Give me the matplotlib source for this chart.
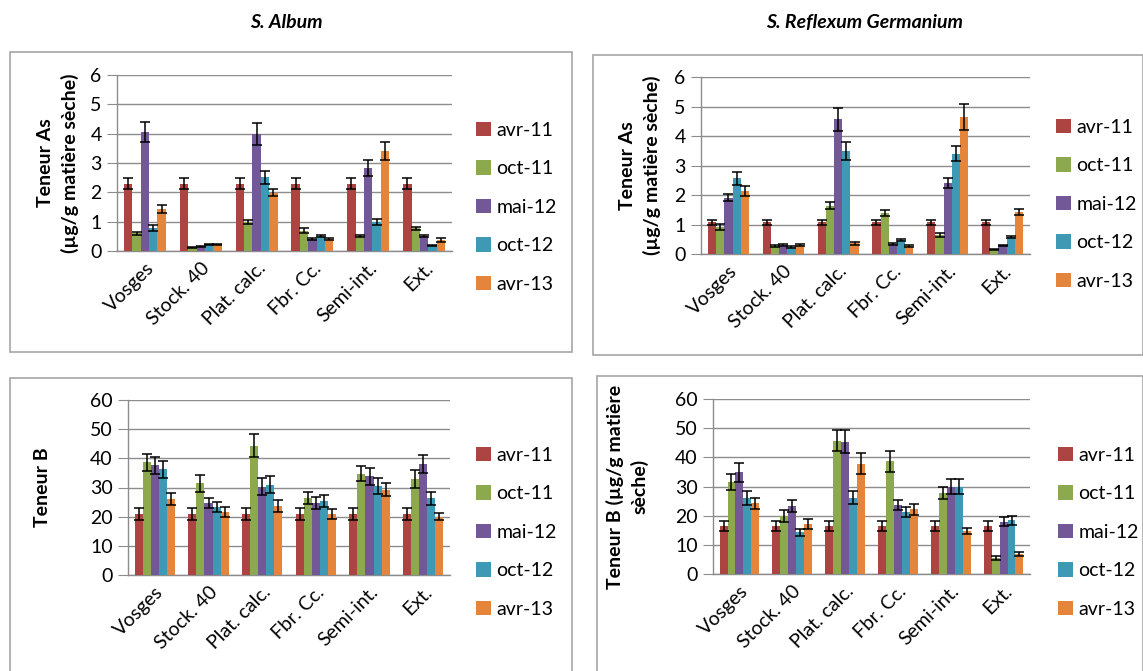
import numpy as np
import matplotlib
matplotlib.use('Agg')
from matplotlib import pyplot as plt
from matplotlib.patches import Rectangle

plt.rcParams['font.family'] = ['Lato', 'DejaVu Sans']

sites = ['Vosges', 'Stock. 40', 'Plat. calc.', 'Fbr. Cc.', 'Semi-int.', 'Ext.']
dates = ['avr-11', 'oct-11', 'mai-12', 'oct-12', 'avr-13']
colors = ['#AC4542', '#8CAA4D', '#735897', '#3E9AB4', '#E5853B']

# As, S. Album (rows = dates, cols = sites)
as_album = [
    [2.3, 2.3, 2.3, 2.3, 2.3, 2.3],
    [0.6, 0.11, 0.98, 0.69, 0.51, 0.77],
    [4.06, 0.15, 4.0, 0.41, 2.84, 0.52],
    [0.77, 0.23, 2.51, 0.52, 0.98, 0.2],
    [1.43, 0.23, 1.99, 0.4, 3.41, 0.37],
]
as_album_err = [
    [0.18, 0.18, 0.18, 0.18, 0.18, 0.18],
    [0.05, 0.02, 0.07, 0.08, 0.04, 0.06],
    [0.35, 0.02, 0.38, 0.04, 0.27, 0.04],
    [0.1, 0.02, 0.22, 0.04, 0.1, 0.02],
    [0.14, 0.02, 0.13, 0.03, 0.32, 0.06],
]

# As, S. Reflexum Germanium
as_refl = [
    [1.07, 1.07, 1.07, 1.07, 1.07, 1.07],
    [0.92, 0.28, 1.64, 1.38, 0.64, 0.16],
    [1.91, 0.3, 4.56, 0.33, 2.42, 0.3],
    [2.57, 0.24, 3.48, 0.47, 3.4, 0.57],
    [2.15, 0.3, 0.36, 0.28, 4.65, 1.43],
]
as_refl_err = [
    [0.08, 0.08, 0.08, 0.08, 0.08, 0.08],
    [0.1, 0.03, 0.13, 0.1, 0.08, 0.02],
    [0.13, 0.03, 0.4, 0.04, 0.17, 0.02],
    [0.22, 0.03, 0.3, 0.04, 0.25, 0.04],
    [0.17, 0.03, 0.05, 0.03, 0.43, 0.1],
]

# B, S. Album
b_album = [
    [21, 21, 21, 21, 21, 21],
    [38.6, 31.4, 44.3, 26.3, 34.8, 32.9],
    [37.6, 24.8, 30.3, 24.8, 33.8, 38.0],
    [36.2, 23.4, 31.0, 25.4, 30.5, 26.3],
    [26.0, 21.6, 23.6, 21.0, 29.3, 19.9],
]
b_album_err = [
    [2, 2, 2, 2, 2, 2],
    [3, 2.8, 4, 2, 2.6, 3],
    [3, 1.7, 3, 2, 3, 3],
    [3, 1.7, 3, 2, 2.6, 2.2],
    [2, 1.6, 2, 1.8, 2.3, 1.2],
]

# B, S. Reflexum Germanium
b_refl = [
    [16.5, 16.5, 16.5, 16.5, 16.5, 16.5],
    [31.6, 19.8, 45.7, 38.6, 27.8, 5.5],
    [34.9, 23.3, 45.4, 23.6, 29.9, 17.9],
    [26.1, 14.3, 26.1, 21.3, 29.9, 18.4],
    [24.2, 17.1, 37.8, 22.2, 14.7, 6.8],
]
b_refl_err = [
    [1.8, 1.8, 1.8, 1.8, 1.8, 1.8],
    [2.7, 2, 3.6, 3.6, 2, 0.6],
    [3.3, 2, 3.9, 1.8, 2.6, 1.5],
    [2.5, 1.1, 2.2, 1.8, 2.6, 1.6],
    [2, 1.8, 3.6, 1.8, 1, 0.6],
]

W, H = 1143, 671
fig = plt.figure(figsize=(W / 100, H / 100), dpi=100)


def box(x0, y0, x1, y1):
    fig.patches.append(Rectangle((x0 / W, 1 - y1 / H), (x1 - x0) / W, (y1 - y0) / H,
                                 transform=fig.transFigure, fill=False,
                                 edgecolor='#A6A6A6', lw=1.2))


def panel(rect, vals, errs, ymax, step, ylabel, leg_xy, ylab_x):
    ax = fig.add_axes([rect[0] / W, 1 - rect[3] / H, (rect[2] - rect[0]) / W, (rect[3] - rect[1]) / H])
    x = np.arange(len(sites))
    bw = 0.15
    for i, d in enumerate(dates):
        ax.bar(x + (i - 2) * bw, vals[i], bw, color=colors[i], label=d, zorder=3,
               yerr=errs[i], error_kw=dict(ecolor='black', elinewidth=1.1, capsize=3.5, capthick=1.1, zorder=4))
    ax.set_xlim(-0.5, len(sites) - 0.5)
    ax.set_ylim(0, ymax)
    ax.set_yticks(np.arange(0, ymax + step / 2, step))
    ax.yaxis.grid(True, color='#8C8C8C', lw=1, zorder=0)
    ax.set_axisbelow(True)
    for s in ['top', 'right']:
        ax.spines[s].set_visible(False)
    for s in ['left', 'bottom']:
        ax.spines[s].set_color('#8C8C8C')
        ax.spines[s].set_linewidth(1)
    ax.tick_params(axis='y', length=7, color='#8C8C8C', labelsize=14, pad=4)
    ax.tick_params(axis='x', length=0, labelsize=14, pad=6)
    ax.set_xticks(x)
    ax.set_xticklabels(sites, rotation=45, ha='right', rotation_mode='anchor')
    fig.text(ylab_x / W, 1 - (rect[1] + rect[3]) / 2 / H, ylabel, rotation=90,
             ha='center', va='center', fontsize=14, fontweight='bold', linespacing=1.4)
    ax.legend(loc='upper left', bbox_to_anchor=(leg_xy[0] / W, 1 - leg_xy[1] / H),
              bbox_transform=fig.transFigure, frameon=False, fontsize=14,
              handlelength=0.75, handleheight=0.75, handletextpad=0.3, labelspacing=1.1,
              borderpad=0, borderaxespad=0)
    return ax


box(10, 52, 572, 352)
box(593, 55, 1143, 355)
box(10, 378, 572, 680)
box(597, 376, 1143, 680)

fig.text(286 / W, 1 - 22 / H, 'S. Album', ha='center', va='center',
         fontsize=14, fontweight='bold', fontstyle='italic')
fig.text(865 / W, 1 - 22 / H, 'S. Reflexum Germanium', ha='center', va='center',
         fontsize=14, fontweight='bold', fontstyle='italic')

panel((117, 75, 452, 251), as_album, as_album_err, 6, 1,
      'Teneur As\n(µg/g matière sèche)', (476, 122), 58)
panel((701, 77, 1030, 254), as_refl, as_refl_err, 6, 1,
      'Teneur As\n(µg/g matière sèche)', (1056, 119), 640)
panel((128, 400, 450, 575), b_album, b_album_err, 60, 10,
      'Teneur B', (476, 447), 42)
panel((713, 399, 1030, 574), b_refl, b_refl_err, 60, 10,
      'Teneur B (µg/g matière\nsèche)', (1058, 447), 627)

fig.savefig('out.png', dpi=100)
